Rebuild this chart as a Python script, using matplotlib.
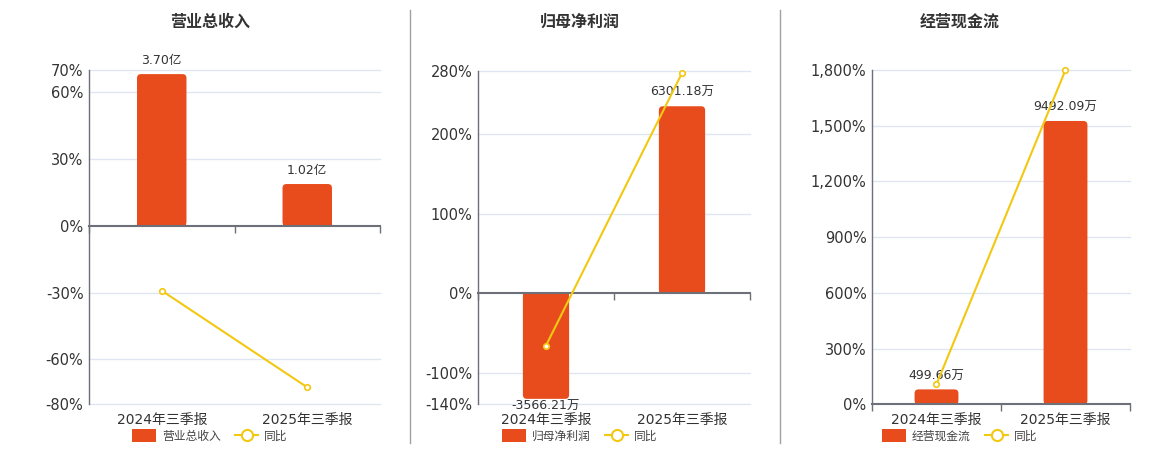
import matplotlib
matplotlib.use('Agg')
import matplotlib.pyplot as plt
import matplotlib.transforms as mtransforms
from matplotlib.patches import FancyBboxPatch, Rectangle, Patch
from matplotlib.lines import Line2D
from matplotlib.ticker import FuncFormatter

plt.rcParams['font.family'] = ['DejaVu Sans', 'Noto Sans CJK SC']

# dados
categorias = ['2024年三季报', '2025年三季报']

receita = [3.70, 1.02]            # 亿
receita_yoy = [-29.1, -72.5]      # %
lucro = [-3566.21, 6301.18]       # 万
lucro_yoy = [-66.0, 277.0]
caixa = [499.66, 9492.09]         # 万
caixa_yoy = [108.0, 1800.0]

titulos = ['营业总收入', '归母净利润', '经营现金流']
legenda_barra = ['营业总收入', '归母净利润', '经营现金流']
unidades = ['亿', '万', '万']

ticks_pct = [[-80, -60, -30, 0, 30, 60, 70],
             [-140, -100, 0, 100, 200, 280],
             [0, 300, 600, 900, 1200, 1500, 1800]]

COR_BARRA = '#E84C1D'
COR_LINHA = '#F2C811'
COR_EIXO = '#6E7079'
COR_GRADE = '#E0E6F1'
COR_TEXTO = '#333333'

W, H = 1160, 450
# caixas dos eixos em pixels: esquerda, direita, topo, base
caixas = [(89, 380, 70, 404), (478, 750, 70.7, 404.3), (872, 1130, 70, 404.3)]
centros = [210, 580, 960]
bmax_lista = [3.80, 7500, 11200]

fig = plt.figure(figsize=(W / 100, H / 100), dpi=100)

series = [(receita, receita_yoy), (lucro, lucro_yoy), (caixa, caixa_yoy)]

for k, (valores, yoy) in enumerate(series):
    l, r, t, b = caixas[k]
    ax = fig.add_axes([l / W, 1 - b / H, (r - l) / W, (b - t) / H])
    ax2 = ax.twinx()

    pmin, pmax = ticks_pct[k][0], ticks_pct[k][-1]
    bmax = bmax_lista[k]
    bmin = pmin / pmax * bmax
    ax.set_xlim(-0.5, 1.5)
    ax.set_ylim(bmin, bmax)
    ax2.set_ylim(pmin, pmax)

    # grade (em unidades das barras, alinhada com as porcentagens)
    for tk in ticks_pct[k]:
        if tk != 0:
            ax.axhline(tk / pmax * bmax, color=COR_GRADE, lw=1, zorder=0, clip_on=False)

    # barras com cantos arredondados
    x = list(range(len(categorias)))
    barras = ax.bar(x, valores, 0.34, color=COR_BARRA, zorder=2)
    xpp = 2.0 / (r - l)
    ypp = (bmax - bmin) / (b - t)
    for bar in barras:
        bar.set_visible(False)
        x0, w, hh = bar.get_x(), bar.get_width(), bar.get_height()
        y0 = min(0, hh)
        p = FancyBboxPatch((x0, y0), w, abs(hh),
                           boxstyle='round,pad=0,rounding_size=%f' % (4 * xpp),
                           mutation_aspect=ypp / xpp, fc=COR_BARRA, ec='none', zorder=2)
        ax.add_patch(p)
        ax.add_patch(Rectangle((x0, min(0, hh / 2)), w, abs(hh) / 2,
                               fc=COR_BARRA, ec='none', zorder=2))

    for xi, v in zip(x, valores):
        off = 5 if v >= 0 else -1
        ax.annotate('%.2f%s' % (v, unidades[k]), (xi, v), xytext=(0, off),
                    textcoords='offset points', ha='center',
                    va='bottom' if v >= 0 else 'top', fontsize=9, color=COR_TEXTO,
                    zorder=5, annotation_clip=False)

    # linha do yoy
    ax2.plot(x, yoy, color=COR_LINHA, lw=1.5, marker='o', ms=4,
             mfc='white', mec=COR_LINHA, mew=1.2, zorder=4, clip_on=False)

    # eixos
    for s in ['top', 'right']:
        ax.spines[s].set_visible(False)
    for s in ax2.spines.values():
        s.set_visible(False)
    ax.spines['bottom'].set_position(('data', 0))
    ax.spines['bottom'].set_color(COR_EIXO)
    ax.spines['bottom'].set_linewidth(1.5)
    ax.spines['bottom'].set_zorder(3)
    ax.spines['left'].set_color(COR_EIXO)
    ax.spines['left'].set_linewidth(1)
    ax.set_yticks([])
    ax.set_xticks([])
    ax.set_xticks([-0.5, 0.5, 1.5], minor=True)
    ax.tick_params(axis='x', which='minor', length=5, width=1, color=COR_EIXO, direction='out')

    ax2.yaxis.tick_left()
    ax2.set_yticks(ticks_pct[k])
    ax2.yaxis.set_major_formatter(FuncFormatter(lambda v, pos: '{:,.0f}%'.format(v)))
    ax2.tick_params(axis='y', length=0, pad=4, labelsize=10.5, labelcolor=COR_TEXTO)

    trans = mtransforms.blended_transform_factory(ax.transData, ax.transAxes)
    for xi, cat in zip(x, categorias):
        ax.text(xi, -16 / (b - t), cat, transform=trans, ha='center', va='center',
                fontsize=10, color=COR_TEXTO)

    fig.text(centros[k] / W, 1 - 22 / H, titulos[k], ha='center', va='center',
             fontsize=11.5, fontweight='bold', color=COR_TEXTO)

    handles = [Patch(facecolor=COR_BARRA, edgecolor='none'),
               Line2D([0], [0], color=COR_LINHA, lw=1.5, marker='o', ms=8,
                      mfc='white', mec=COR_LINHA, mew=1.5)]
    fig.legend(handles, [legenda_barra[k], '同比'], loc='center',
               bbox_to_anchor=(centros[k] / W, 1 - 436 / H), ncol=2, frameon=False,
               fontsize=8.5, handlelength=2.0, handleheight=1.2, columnspacing=1.2,
               handletextpad=0.5, labelcolor='#444444')

# separadores
for xs in [410, 780]:
    fig.add_artist(Line2D([xs / W, xs / W], [1 - 10 / H, 1 - 443 / H], color='#A0A0A0', lw=1))

fig.savefig('out.png', dpi=100)
